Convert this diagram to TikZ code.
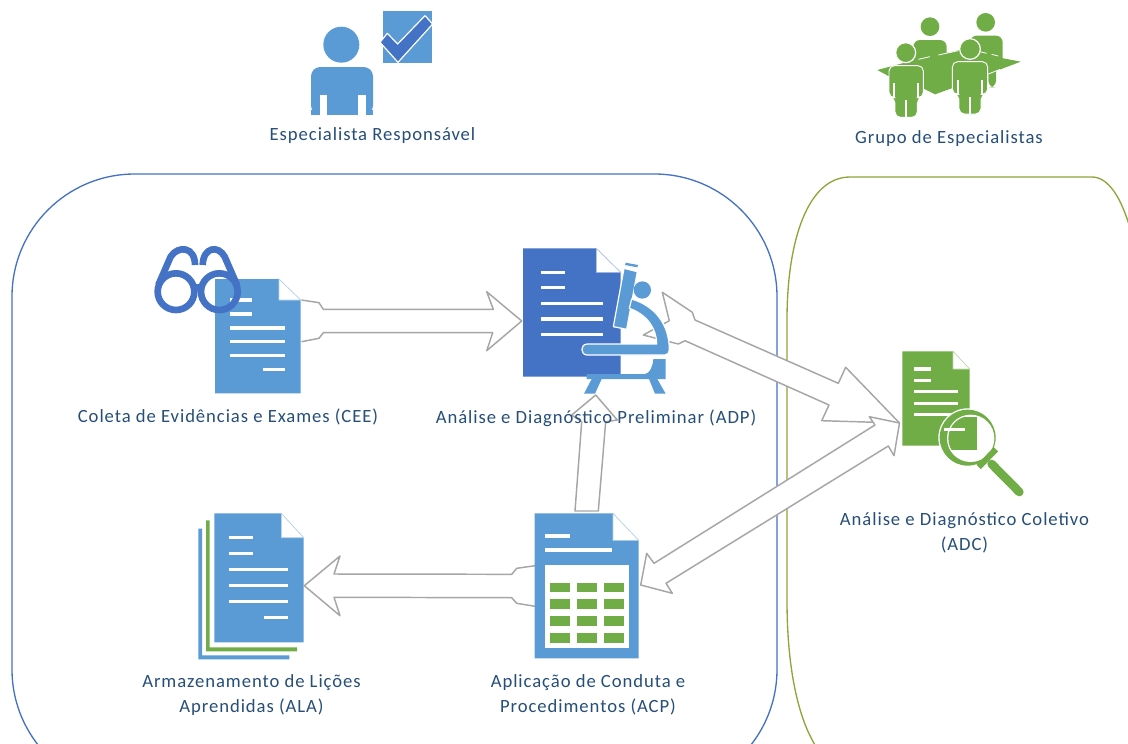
\documentclass[tikz,border=0pt]{standalone}
\usepackage{fontspec}
\setmainfont[LetterSpace=5]{Carlito}
\definecolor{lblue}{HTML}{5B9BD5}
\definecolor{dblue}{HTML}{4472C4}
\definecolor{lgreen}{HTML}{70AD47}
\definecolor{oline}{HTML}{8CA63A}
\definecolor{agray}{HTML}{A6A6A6}
\definecolor{txt}{HTML}{264E78}
\tikzset{
  zoomed/.style 2 args={shift={(#1,#2)},x=.25pt,y=-.25pt},
  container/.style={line width=1pt},
  blockarrow/.style={draw=agray,fill=white,line width=1.1pt,line join=round},
  docline/.style={white,line width=2.3pt},
  foldtri/.style={fill=white,draw=#1!45!white,line width=.5pt},
  label/.style={text=txt,font=\fontsize{14}{18.75}\selectfont,align=center,inner sep=0pt},
  iconbox/.style={inner sep=0pt,draw=none,anchor=north west},
  whiteedge/.style={draw=white,line width=.9pt,line join=round},
}
\begin{document}
\begin{tikzpicture}[x=.75pt,y=-.75pt]
\useasboundingbox (0,0) rectangle (1128,743);
\begin{scope}
\clip (0,0) rectangle (1128,743);
% containers
\draw[container,dblue,rounded corners=92pt] (12,174) rectangle (777,792);
\draw[container,oline] (1130,228) .. controls (1121,197) and (1108,177) .. (1092,177) -- (850,177)
  .. controls (808,177) and (787,240) .. (787,320)
  -- (787,600) .. controls (787,665) and (797,715) .. (815,745);
% anchors of the icons
\node[iconbox,minimum width=64.5pt,minimum height=85.5pt] (cee) at (215,279) {};
\node[iconbox,minimum width=73pt,minimum height=96pt] (adp) at (523,248) {};
\node[iconbox,minimum width=78pt,minimum height=109pt] (acp) at (535,513) {};
\node[iconbox,minimum width=67pt,minimum height=97pt] (ala) at (214,513) {};
\node[iconbox,minimum width=51pt,minimum height=71pt] (adc) at (902,351) {};
\coordinate (adpIn) at (521.7,321);
\coordinate (adpOut) at (662.3,292.3);
\coordinate (adcIn) at (899.5,423);
\coordinate (acpSide) at (640.7,585);
\coordinate (adpDown) at (595.7,395);
\coordinate (alaIn) at (304.3,585.7);
% block arrows
\draw[blockarrow] (cee.east |- 0,300) -- (319,302.7) -- (323.3,309.3) -- (493.3,309.3) -- (486.7,291.7)
  -- (adpIn) -- (486.7,350.7) -- (492.7,332.7) -- (323.3,332.7) -- (319,338.3) -- (cee.east |- 0,341.7);
\draw[blockarrow] (adpOut) -- (692.3,312.3) -- (695,320) -- (838.3,383.3) -- (845.7,367.3)
  -- (adcIn) -- (821.7,420.7) -- (829,405) -- (685,340.7) -- (678.3,344) -- (643.3,335) -- (669.3,320.7) -- cycle;
\draw[blockarrow] (869.3,416.7) -- (adcIn) -- (894,455.7) -- (888.3,446) -- (666,583.3) -- (672.3,593.3)
  -- (acpSide) -- (646.7,553.3) -- (654,563.3) -- (875,425) -- cycle;
\draw[blockarrow] (575,511) -- (581.7,421.7) -- (571.7,415) -- (adpDown) -- (617.3,420) -- (605.7,421.7) -- (598.3,511) -- cycle;
\draw[blockarrow] (acp.west |- 0,565.7) -- (516.7,568.3) -- (511.7,574.3) -- (334,574) -- (340,556)
  -- (alaIn) -- (340,615.7) -- (334,597.3) -- (511.7,597.7) -- (516.7,603.3) -- (acp.west |- 0,606.3);
\end{scope}
% CEE document and glasses
\begin{scope}[zoomed={140}{230}]
\fill[lblue] (225,147) -- (417,147) -- (482,210) -- (482,490) -- (225,490) -- cycle;
\draw[foldtri=lblue] (417,147) -- (417,210) -- (482,210) -- cycle;
\foreach \yy/\xa/\xb in {210/270/337,252/270/337,294/270/435,335/270/435,377/270/435,418/368/435}
  \draw[docline] (\xa,\yy) -- (\xb,\yy);
\begin{scope}[dblue,line width=5pt]
\draw (108,185) circle (55);
\draw (238,185) circle (55);
\draw (163,172) -- (183,172);
\draw (55,165) -- (92,80) .. controls (115,45) and (165,50) .. (165,105);
\draw (291,165) -- (254,80) .. controls (235,45) and (190,50) .. (188,105);
\end{scope}
\end{scope}
% ADP document and microscope
\begin{scope}[zoomed={480}{235}]
\fill[dblue] (129,40) -- (349,40) -- (422,112) -- (422,425) -- (129,425) -- cycle;
\draw[foldtri=dblue] (349,40) -- (349,112) -- (422,112) -- cycle;
\foreach \yy/\xa/\xb in {112/182/256,158/182/256,205/182/370,252/182/370,298/182/370}
  \draw[docline] (\xa,\yy) -- (\xb,\yy);
\fill[lblue] (437,83) -- (474,90) -- (472,97) -- (435,90) -- cycle;
\filldraw[fill=lblue,whiteedge] (432,100) -- (472,110) -- (440,283) -- (400,275) -- cycle;
\fill[lblue] (487,165) circle (26);
\filldraw[fill=lblue,whiteedge] (455,192) .. controls (522,212) and (568,265) .. (568,345)
  .. controls (568,352) and (564,360) .. (555,360) -- (322,360) .. controls (300,360) and (300,327) .. (322,327)
  -- (530,327) .. controls (530,280) and (500,238) .. (448,220) -- cycle;
\fill[lblue] (520,372) -- (557,372) -- (557,432) -- (320,432) -- (320,417) -- (495,417)
  .. controls (510,415) and (518,395) .. (520,372) -- cycle;
\fill[lblue] (335,432) -- (365,432) -- (345,476) -- (312,476) -- cycle;
\fill[lblue] (507,432) -- (532,432) -- (557,476) -- (525,476) -- cycle;
\end{scope}
% ADC document and magnifier
\begin{scope}[zoomed={820}{340}]
\fill[lgreen] (247,34) -- (399,34) -- (449,87) -- (449,317) -- (247,317) -- cycle;
\draw[foldtri=lgreen] (399,34) -- (399,87) -- (449,87) -- cycle;
\foreach \yy/\xa/\xb in {87/283/333,121/283/333,155/283/413,190/283/413,224/283/400}
  \draw[docline] (\xa,\yy) -- (\xb,\yy);
\fill[white] (443,293) circle (88);
\fill[lgreen] (443,293) circle (84);
\fill[white] (452,295) circle (71);
\begin{scope}
\clip (452,295) circle (67);
\fill[lgreen] (385,232) rectangle (470,330);
\end{scope}
\draw[docline] (372,268) -- (435,268);
\draw[lgreen,line width=4.5pt] (476,381) -- (528,328);
\draw[lgreen,line width=6.5pt,line cap=round] (515,372) -- (598,456);
\end{scope}
% ACP document
\begin{scope}[zoomed={490}{490}]
\fill[lblue] (134,70) -- (369,70) -- (446,151) -- (446,505) -- (134,505) -- cycle;
\draw[foldtri=lblue] (369,70) -- (369,151) -- (446,151) -- cycle;
\draw[docline] (165,138) -- (240,138);
\draw[docline] (165,180) -- (367,180);
\fill[white] (165,226) rectangle (416,473);
\foreach \xa/\xb in {180/240,261/320,341/401}
  \foreach \ya/\yb in {278/307,328/357,379/408,429/458}
    \fill[lgreen] (\xa,\ya) rectangle (\xb,\yb);
\end{scope}
% ALA document stack
\begin{scope}[zoomed={180}{500}]
\fill[lblue] (55,86) -- (66,86) -- (66,466) -- (328,466) -- (328,478) -- (55,478) -- cycle;
\fill[lgreen] (78,61) -- (89,61) -- (89,442) -- (351,442) -- (351,454) -- (78,454) -- cycle;
\fill[lblue] (103,40) -- (304,40) -- (371,113) -- (371,427) -- (103,427) -- cycle;
\draw[foldtri=lblue] (304,40) -- (304,113) -- (371,113) -- cycle;
\foreach \yy/\xa/\xb in {113/146/218,161/146/218,208/146/323,256/146/323,304/146/323,352/252/323}
  \draw[docline] (\xa,\yy) -- (\xb,\yy);
\end{scope}
% person with check mark
\begin{scope}[zoomed={280}{0}]
\fill[lblue] (184,134) circle (54);
\fill[lblue,rounded corners=7pt] (93,344) -- (93,201) -- (279,201) -- (279,344) -- cycle;
\fill[lblue] (93,330) rectangle (279,344);
\fill[white] (119,285) rectangle (141,345);
\fill[white] (235,285) rectangle (257,345);
\fill[lblue] (309,33) rectangle (456,188);
\filldraw[fill=dblue,whiteedge] (300,127) -- (322,100) -- (353,132) -- (435,47) -- (458,72) -- (354,187) -- cycle;
\end{scope}
% group of specialists
\begin{scope}[zoomed={860}{0}]
\fill[lgreen] (210,80) circle (28);
\fill[lgreen] (377,67) circle (28);
\fill[lgreen,rounded corners=5pt] (330,107) -- (428,107) -- (428,200) -- (408,200) -- (408,262) -- (385,262) -- (385,200) -- (330,200) -- cycle;
\fill[lgreen,rounded corners=5pt] (160,120) -- (260,120) -- (260,200) -- (160,200) -- cycle;
\fill[lgreen] (52,210) -- (172,178) -- (300,150) -- (482,185) -- (385,222)
  -- (275,265) -- (225,283) -- (195,268) -- (85,228) -- cycle;
\draw[white,line width=.6pt] (175,178) -- (210,170) (235,165) -- (295,152) (360,155) -- (380,160) (395,163) -- (415,168) (385,222) -- (420,208);
\filldraw[fill=lgreen,whiteedge] (137,158) circle (30);
\filldraw[fill=lgreen,draw=white,line width=.7pt,rounded corners=4pt] (87,293) -- (87,197) -- (190,197) -- (190,293) -- (172,293) -- (172,352) -- (105,352) -- (105,293) -- cycle;
\fill[white] (136,300) rectangle (141,353);
\fill[white] (100,250) rectangle (104,293);
\fill[white] (172,250) rectangle (176,293);
\filldraw[fill=lgreen,whiteedge] (330,147) circle (31);
\filldraw[fill=lgreen,draw=white,line width=.7pt,rounded corners=4pt] (277,283) -- (277,185) -- (383,185) -- (383,283) -- (363,283) -- (363,342) -- (297,342) -- (297,283) -- cycle;
\fill[white] (328,290) rectangle (333,343);
\fill[white] (292,240) rectangle (296,283);
\fill[white] (364,240) rectangle (368,283);
\end{scope}
% labels
\node[label] (lresp) at (372.5,136) {Especialista Responsável};
\node[label] (lgroup) at (949,139) {Grupo de Especialistas};
\node[label] (lcee) at (228,417) {Coleta de Evidências e Exames (CEE)};
\node[label] (ladp) at (596,418) {Análise e Diagnóstico Preliminar (ADP)};
\node[label] (ladc) at (964.5,533) {Análise e Diagnóstico Coletivo\\(ADC)};
\node[label] (lala) at (251.5,695) {Armazenamento de Lições\\Aprendidas (ALA)};
\node[label] (lacp) at (588,695) {Aplicação de Conduta e\\Procedimentos (ACP)};
\end{tikzpicture}
\end{document}
